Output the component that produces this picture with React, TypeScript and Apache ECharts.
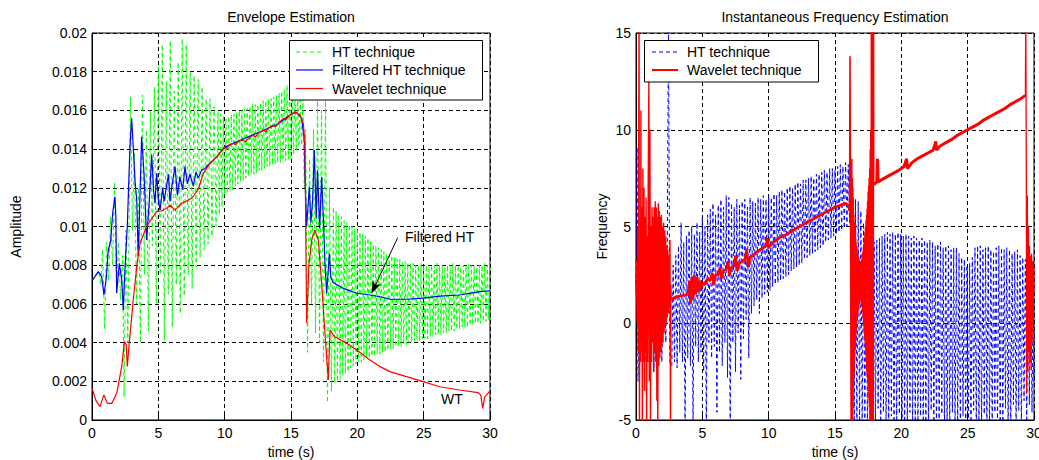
import React, { useEffect, useRef } from "react";
import * as echarts from "echarts";

// ---------- Left: Envelope Estimation ----------
const xTicks = [0, 5, 10, 15, 20, 25, 30];

const envHT: [number, number][] = [
  [0.0, 0.0072], [0.25, 0.0075], [0.5, 0.0077], [0.65, 0.007], [0.8, 0.0088], [0.95, 0.0047],
  [1.1, 0.0092], [1.25, 0.0072], [1.4, 0.0105], [1.55, 0.008], [1.7, 0.0123], [1.85, 0.0068],
  [2.0, 0.0092], [2.15, 0.0062], [2.3, 0.0085], [2.42, 0.0012], [2.55, 0.0098], [2.7, 0.004],
  [2.9, 0.0167], [3.05, 0.0098], [3.2, 0.0138], [3.35, 0.006], [3.5, 0.012], [3.65, 0.004],
  [3.8, 0.0168], [3.95, 0.0075], [4.1, 0.015], [4.25, 0.0046], [4.4, 0.016], [4.55, 0.009],
  [4.7, 0.0172], [4.85, 0.006], [5.0, 0.0183], [5.15, 0.0075], [5.3, 0.0194], [5.45, 0.0041],
  [5.6, 0.0175], [5.75, 0.0065], [5.9, 0.0196], [6.05, 0.0048], [6.2, 0.017], [6.35, 0.007],
  [6.5, 0.0185], [6.65, 0.0055], [6.8, 0.0197], [6.95, 0.0064], [7.1, 0.0194], [7.25, 0.0075],
  [7.4, 0.018], [7.55, 0.0068], [7.7, 0.0178], [7.85, 0.0079], [8.0, 0.0176], [8.15, 0.0084],
  [8.3, 0.0172], [8.45, 0.0088], [8.6, 0.0166], [8.75, 0.0091], [8.9, 0.0166], [9.05, 0.0095],
  [9.2, 0.0162], [9.35, 0.01],
  [9.5, 0.016], [9.6, 0.0106], [9.7, 0.0158], [9.8, 0.011], [9.9, 0.0157], [10.0, 0.0116],
  [10.1, 0.0156], [10.2, 0.0117], [10.3, 0.0157], [10.4, 0.0118], [10.5, 0.0158], [10.6, 0.0119],
  [10.7, 0.0158], [10.8, 0.0121], [10.9, 0.0159], [11.0, 0.0122], [11.1, 0.016], [11.2, 0.0123],
  [11.3, 0.016], [11.4, 0.0124], [11.5, 0.0161], [11.6, 0.0125], [11.7, 0.0161], [11.8, 0.0126],
  [11.9, 0.0162], [12.0, 0.0127], [12.1, 0.0163], [12.2, 0.0127], [12.3, 0.0163], [12.4, 0.0128],
  [12.5, 0.0163], [12.6, 0.0129], [12.7, 0.0164], [12.8, 0.0129], [12.9, 0.0165], [13.0, 0.013],
  [13.1, 0.0165], [13.2, 0.0131], [13.3, 0.0166], [13.4, 0.0131], [13.5, 0.0166], [13.6, 0.0132],
  [13.7, 0.0167], [13.8, 0.0132], [13.9, 0.0168], [14.0, 0.0133], [14.1, 0.0169], [14.2, 0.0133],
  [14.3, 0.017], [14.4, 0.0134], [14.5, 0.0171], [14.6, 0.0134], [14.7, 0.0173], [14.8, 0.0135],
  [14.9, 0.0174], [15.0, 0.0135], [15.1, 0.0172], [15.2, 0.0137], [15.3, 0.017], [15.4, 0.0139],
  [15.5, 0.0169], [15.6, 0.0141], [15.7, 0.0167], [15.8, 0.0142], [15.9, 0.0166], [16.0, 0.012],
  [16.1, 0.015], [16.25, 0.0035], [16.4, 0.0135], [16.55, 0.006], [16.7, 0.015], [16.85, 0.0045],
  [17.0, 0.0165], [17.15, 0.004], [17.3, 0.016], [17.45, 0.003], [17.6, 0.0165], [17.75, 0.0009],
  [17.9, 0.012], [18.05, 0.0015],
  [18.2, 0.011], [18.3, 0.0019], [18.4, 0.0108], [18.5, 0.002], [18.6, 0.0106], [18.7, 0.0021],
  [18.8, 0.0105], [18.9, 0.0023], [19.0, 0.0103], [19.1, 0.0024], [19.2, 0.0102], [19.3, 0.0025],
  [19.4, 0.0101], [19.5, 0.0027], [19.6, 0.01], [19.7, 0.0028], [19.8, 0.0099], [19.9, 0.0029],
  [20.0, 0.0098], [20.1, 0.003], [20.2, 0.0097], [20.3, 0.003], [20.4, 0.0096], [20.5, 0.0031],
  [20.6, 0.0095], [20.7, 0.0032], [20.8, 0.0094], [20.9, 0.0032], [21.0, 0.0092], [21.1, 0.0033],
  [21.2, 0.0091], [21.3, 0.0033], [21.4, 0.009], [21.5, 0.0034], [21.6, 0.0089], [21.7, 0.0034],
  [21.8, 0.0088], [21.9, 0.0035], [22.0, 0.0087], [22.1, 0.0035], [22.2, 0.0086], [22.3, 0.0036],
  [22.4, 0.0085], [22.5, 0.0037], [22.6, 0.0085], [22.7, 0.0037], [22.8, 0.0084], [22.9, 0.0038],
  [23.0, 0.0083], [23.1, 0.0038], [23.2, 0.0083], [23.3, 0.0038], [23.4, 0.0082], [23.5, 0.0039],
  [23.6, 0.0082], [23.7, 0.0039], [23.8, 0.0081], [23.9, 0.004], [24.0, 0.0081], [24.1, 0.004],
  [24.2, 0.0081], [24.3, 0.0041], [24.4, 0.008], [24.5, 0.0041], [24.6, 0.008], [24.7, 0.0041],
  [24.8, 0.0081], [24.9, 0.0042], [25.0, 0.008], [25.1, 0.0042], [25.2, 0.008], [25.3, 0.0042],
  [25.4, 0.0079], [25.5, 0.0043], [25.6, 0.008], [25.7, 0.0043], [25.8, 0.008], [25.9, 0.0044],
  [26.0, 0.0081], [26.1, 0.0044], [26.2, 0.008], [26.3, 0.0044], [26.4, 0.008], [26.5, 0.0045],
  [26.6, 0.0079], [26.7, 0.0045], [26.8, 0.008], [26.9, 0.0046], [27.0, 0.008], [27.1, 0.0046],
  [27.2, 0.0081], [27.3, 0.0046], [27.4, 0.008], [27.5, 0.0047], [27.6, 0.008], [27.7, 0.0047],
  [27.8, 0.0079], [27.9, 0.0048], [28.0, 0.008], [28.1, 0.0048], [28.2, 0.008], [28.3, 0.0048],
  [28.4, 0.0081], [28.5, 0.0049], [28.6, 0.008], [28.7, 0.0049], [28.8, 0.008], [28.9, 0.005],
  [29.0, 0.0079], [29.1, 0.005], [29.2, 0.008], [29.3, 0.005], [29.4, 0.008], [29.5, 0.0051],
  [29.6, 0.0081], [29.7, 0.0051], [29.8, 0.008], [29.9, 0.0052], [30.0, 0.008],
];

const envFiltered: [number, number][] = [
  [0.0, 0.0072], [0.05, 0.00724], [0.48, 0.00767], [0.73, 0.0074], [0.9, 0.00646], [1.06, 0.00724],
  [1.23, 0.0088], [1.4, 0.0092], [1.56, 0.0107], [1.73, 0.01154], [1.8, 0.0105], [1.86, 0.00655],
  [2.06, 0.0081], [2.24, 0.00724], [2.36, 0.00568], [2.49, 0.0079], [2.66, 0.01], [2.86, 0.01412],
  [2.99, 0.01559], [3.11, 0.0141], [3.24, 0.0124], [3.37, 0.01137], [3.49, 0.0085], [3.74, 0.01464],
  [3.92, 0.01275], [4.12, 0.0093], [4.32, 0.01137], [4.5, 0.0137], [4.64, 0.0119], [4.75, 0.0112],
  [4.87, 0.01275], [5.0, 0.0114], [5.13, 0.01085], [5.33, 0.012], [5.43, 0.0113], [5.58, 0.01189],
  [5.76, 0.0127], [5.88, 0.0113], [6.05, 0.0122], [6.26, 0.0131], [6.44, 0.0116], [6.63, 0.01257],
  [6.83, 0.0119], [7.01, 0.0131], [7.19, 0.0122], [7.38, 0.0127], [7.64, 0.0121], [7.84, 0.01283],
  [8.0, 0.0125], [8.25, 0.0129], [8.52, 0.013], [8.77, 0.0132], [9.0, 0.01335], [9.4, 0.0136],
  [10.0, 0.0141], [11.0, 0.0144], [12.0, 0.0147], [13.0, 0.015], [14.0, 0.0153], [15.0, 0.0158],
  [15.4, 0.0159], [15.8, 0.0156], [16.0, 0.0145], [16.05, 0.0126], [16.18, 0.01], [16.38, 0.01206],
  [16.5, 0.0102], [16.63, 0.01137], [16.76, 0.01395], [16.9, 0.0104], [17.0, 0.0129], [17.16, 0.0099],
  [17.31, 0.01257], [17.44, 0.0104], [17.56, 0.0081], [17.69, 0.00655], [17.89, 0.0086], [18.0, 0.0074],
  [18.17, 0.0071], [18.44, 0.007], [18.94, 0.0068], [19.95, 0.00655], [20.95, 0.00646], [21.7, 0.00637],
  [22.46, 0.00624], [23.7, 0.00624], [24.97, 0.0063], [26.2, 0.0064], [27.7, 0.00646], [29.25, 0.00663],
  [30.0, 0.00668],
];

const envWavelet: [number, number][] = [
  [0.0, 0.00164], [0.3, 0.001], [0.6, 0.00069], [0.9, 0.0013], [1.15, 0.00086], [1.5, 0.00086],
  [1.86, 0.00138], [2.24, 0.00276], [2.44, 0.00405], [2.58, 0.0039], [2.66, 0.00276], [2.81, 0.004],
  [3.11, 0.0062], [3.37, 0.0079], [3.62, 0.00913], [4.12, 0.01], [4.5, 0.0104], [4.87, 0.01077],
  [5.2, 0.0108], [5.63, 0.01094], [5.9, 0.0111], [6.26, 0.01085], [6.76, 0.0112], [7.1, 0.0113],
  [7.51, 0.01146], [8.0, 0.0119], [8.39, 0.01275], [8.9, 0.01326], [9.4, 0.0136], [10.0, 0.01412],
  [10.15, 0.01402], [10.3, 0.0142], [10.65, 0.0143], [10.8, 0.01422], [11.0, 0.0144], [11.4, 0.01447],
  [11.55, 0.01438], [11.7, 0.0145], [12.16, 0.01473], [12.3, 0.01462], [12.5, 0.0148], [12.91, 0.01499],
  [13.1, 0.0149], [13.3, 0.0151], [13.67, 0.01525], [13.8, 0.01515], [14.0, 0.0153], [14.42, 0.01559],
  [14.6, 0.0155], [14.92, 0.01576], [15.3, 0.01593], [15.68, 0.01576], [15.93, 0.01533], [16.05, 0.0143],
  [16.18, 0.005], [16.35, 0.008], [16.56, 0.0093], [16.8, 0.00982], [17.06, 0.0093], [17.31, 0.00706],
  [17.56, 0.00448], [17.81, 0.00207], [17.94, 0.00465], [18.3, 0.0043], [19.2, 0.00396], [19.95, 0.00362],
  [20.95, 0.0031], [21.7, 0.00276], [22.46, 0.0025], [23.7, 0.00224], [24.97, 0.00198], [26.2, 0.00172],
  [27.7, 0.00155], [29.1, 0.00141], [29.3, 0.0013], [29.45, 0.0006], [29.6, 0.0012], [30.0, 0.0015],
];

// ---------- Right: Instantaneous Frequency Estimation ----------
const freqHT: [number, number][] = [
  [0.0, 2.0], [0.08, 9.1], [0.15, -3.0], [0.3, 3.0], [0.45, -1.5], [0.6, 4.0], [0.75, -2.0],
  [0.9, 3.5], [1.05, -1.0], [1.2, 4.2], [1.35, -2.5], [1.5, 3.8], [1.65, -1.8], [1.8, 4.0],
  [1.95, -2.0], [2.1, 3.5], [2.25, -1.0], [2.35, 3.0], [2.45, 16.0], [2.55, -2.0],
  [2.7, -2.2], [2.8, 3.0], [2.9, -2.0], [3.0, 3.5], [3.1, -2.3], [3.2, 4.0], [3.3, -1.5], [3.4, 5.2],
  [3.5, -2.0], [3.6, 4.2], [3.7, -5.5], [3.8, 4.5], [3.9, -1.8], [4.0, 4.8], [4.1, -2.2], [4.2, 5.0],
  [4.3, -5.5], [4.4, 4.6], [4.5, -1.2], [4.6, 5.2], [4.7, -2.0], [4.8, 4.7], [4.9, -1.5], [5.0, 5.5],
  [5.1, -2.5], [5.2, 5.0], [5.3, -5.5], [5.4, 5.6], [5.5, -1.0], [5.6, 5.9], [5.7, -1.8], [5.8, 6.2],
  [5.9, -1.2], [6.0, 5.6], [6.1, -4.6], [6.2, 6.1], [6.3, -1.5], [6.4, 6.4], [6.5, -2.2], [6.6, 6.0],
  [6.7, -1.0], [6.8, 6.6], [6.9, -2.8], [7.0, 6.5], [7.1, -5.5], [7.2, 6.2], [7.3, -1.0], [7.4, 6.0],
  [7.5, -2.5], [7.6, 6.4], [7.7, -0.5], [7.8, 6.1], [7.9, -2.9], [8.0, 6.3], [8.1, -0.8], [8.2, 6.4],
  [8.3, 0.2], [8.4, 6.0], [8.5, -1.8], [8.6, 6.5], [8.7, 0.5], [8.8, 6.3], [8.9, 0.9], [9.0, 6.2],
  [9.1, 1.2], [9.2, 6.5], [9.3, 0.5], [9.4, 6.4], [9.5, 1.3], [9.6, 6.6], [9.7, 1.5], [9.8, 6.4],
  [9.9, 1.6], [10.0, 6.6], [10.1, 1.7], [10.2, 6.5], [10.3, 1.9], [10.4, 6.7], [10.5, 2.0], [10.6, 6.6],
  [10.7, 2.1], [10.8, 6.8], [10.9, 2.2], [11.0, 6.9], [11.1, 2.3], [11.2, 6.8], [11.3, 2.4], [11.4, 7.0],
  [11.5, 2.5], [11.6, 7.1], [11.7, 2.7], [11.8, 7.0], [11.9, 2.8], [12.0, 7.2], [12.1, 2.9], [12.2, 7.3],
  [12.3, 3.0], [12.4, 7.2], [12.5, 3.1], [12.6, 7.4], [12.7, 3.3], [12.8, 7.4], [12.9, 3.4], [13.0, 7.5],
  [13.1, 3.5], [13.2, 7.6], [13.3, 3.6], [13.4, 7.5], [13.5, 3.7], [13.6, 7.7], [13.7, 3.8], [13.8, 7.7],
  [13.9, 3.9], [14.0, 7.8], [14.1, 4.0], [14.2, 7.9], [14.3, 4.2], [14.4, 7.8], [14.5, 4.3], [14.6, 8.0],
  [14.7, 4.4], [14.8, 8.0], [14.9, 4.5], [15.0, 7.9], [15.1, 4.6], [15.2, 8.1], [15.3, 4.7], [15.4, 8.2],
  [15.5, 4.8], [15.6, 8.1], [15.7, 4.9], [15.8, 8.3], [15.9, 5.0], [16.0, 8.2], [16.1, 5.2], [16.2, 8.0],
  [16.25, -6.0],
  [16.35, 6.5], [16.45, -5.5], [16.55, 6.4], [16.65, -5.5], [16.75, 6.3], [16.85, -5.5], [16.95, 5.8],
  [17.05, -5.5], [17.15, 5.2], [17.25, -5.5], [17.35, 4.6], [17.45, -5.5], [17.55, 3.5], [17.65, -5.5],
  [17.75, 4.0], [17.85, -5.5], [17.95, 4.2], [18.05, -5.5], [18.15, 4.3], [18.25, -4.4], [18.35, 4.4],
  [18.45, -5.5], [18.55, 4.5], [18.65, -4.6], [18.75, 4.6], [18.85, -5.5], [18.95, 4.7], [19.05, -5.5],
  [19.15, 4.6], [19.25, -4.8], [19.35, 4.7], [19.45, -5.5], [19.55, 4.6], [19.65, -5.5], [19.75, 4.7],
  [19.85, -4.7], [19.95, 4.6], [20.05, -5.5], [20.15, 4.5], [20.25, -5.5], [20.35, 4.6], [20.45, -5.5],
  [20.55, 4.5], [20.65, -4.6], [20.75, 4.4], [20.85, -5.5], [20.95, 4.5], [21.05, -5.5], [21.15, 4.4],
  [21.25, -5.5], [21.35, 4.3], [21.45, -4.8], [21.55, 4.4], [21.65, -5.5], [21.75, 4.3], [21.85, -5.5],
  [21.95, 4.2], [22.05, -5.5], [22.15, 4.3], [22.25, -4.5], [22.35, 4.2], [22.45, -5.5], [22.55, 4.0],
  [22.65, -5.5], [22.75, 4.1], [22.85, -5.5], [22.95, 4.2], [23.05, -4.7], [23.15, 3.9], [23.25, -5.5],
  [23.35, 4.0], [23.45, -5.5], [23.55, 4.0], [23.65, -5.5], [23.75, 3.8], [23.85, -4.6], [23.95, 3.9],
  [24.05, -5.5], [24.15, 3.9], [24.25, -5.5], [24.35, 3.6], [24.45, -5.5], [24.55, 3.4], [24.65, -4.8],
  [24.75, 3.3], [24.85, -5.5], [24.95, 3.0], [25.05, -5.5], [25.15, 3.1], [25.25, -5.5], [25.35, 3.4],
  [25.45, -4.5], [25.55, 3.9], [25.65, -5.5], [25.75, 4.0], [25.85, -5.5], [25.95, 4.0], [26.05, -5.5],
  [26.15, 3.8], [26.25, -4.7], [26.35, 3.9], [26.45, -5.5], [26.55, 4.0], [26.65, -5.5], [26.75, 3.8],
  [26.85, -5.5], [26.95, 3.7], [27.05, -4.6], [27.15, 3.9], [27.25, -5.5], [27.35, 4.0], [27.45, -5.5],
  [27.55, 3.9], [27.65, -5.5], [27.75, 3.8], [27.85, -4.4], [27.95, 3.9], [28.05, -5.5], [28.15, 3.8],
  [28.25, -5.5], [28.35, 3.6], [28.45, -4.2], [28.55, 3.7], [28.65, -5.5], [28.75, 3.8], [28.85, -4.5],
  [28.95, 3.5], [29.05, -5.5], [29.15, 3.4], [29.25, -4.0], [29.35, 3.3], [29.45, -5.5], [29.55, 3.0],
  [29.65, -4.2], [29.75, 3.1], [29.85, -4.6], [29.95, 3.2], [30.0, -3.0],
];

const freqWaveletStart: [number, number][] = [
  [0.0, 1.5], [0.04, 3.2], [0.08, 0.0], [0.12, 5.0], [0.16, -1.5], [0.2, 9.0], [0.23, 16.0],
  [0.26, -6.0], [0.3, 4.0], [0.34, -2.0], [0.37, 11.0], [0.4, -1.0], [0.44, 6.0], [0.48, -6.0],
  [0.52, 8.0], [0.56, -2.0], [0.6, 7.0], [0.64, -3.5], [0.68, 5.5], [0.72, -1.5], [0.76, 6.5],
  [0.8, -6.0], [0.84, 4.5], [0.88, -2.0], [0.92, 7.0], [0.97, 12.5], [1.0, -3.0], [1.05, 10.0],
  [1.09, -6.0], [1.13, 5.0], [1.17, -2.0], [1.21, 6.0], [1.25, -1.0], [1.29, 5.5], [1.33, -2.5],
  [1.37, 6.0], [1.41, -1.5], [1.45, 6.3], [1.49, -2.0], [1.53, 6.0], [1.57, -4.0], [1.61, 5.5],
  [1.64, -6.0], [1.68, 6.2], [1.72, -2.2], [1.76, 5.8], [1.8, -1.8], [1.84, 5.5], [1.88, -1.5],
  [1.92, 5.6], [1.96, -1.2], [2.0, 5.0], [2.04, -1.0], [2.08, 5.2], [2.12, -0.5], [2.16, 4.8],
  [2.2, -0.2], [2.24, 4.5], [2.28, 0.0], [2.32, 4.0], [2.36, 0.3], [2.4, 3.8], [2.44, 0.5],
  [2.48, 3.5], [2.52, 0.8], [2.56, 4.3], [2.6, -6.0], [2.63, 2.0], [2.66, 1.2],
];

const freqWaveletRise: [number, number][] = [
  [2.66, 1.2], [2.8, 1.3], [3.2, 1.4], [3.6, 1.45], [3.9, 1.5], [4.05, 2.2], [4.1, 1.0], [4.2, 2.4],
  [4.3, 1.2], [4.4, 2.5], [4.5, 1.5], [4.6, 2.4], [4.7, 1.6], [4.8, 2.2], [4.9, 1.8], [5.0, 2.1],
  [5.2, 2.0], [5.4, 2.3], [5.6, 2.2], [5.75, 2.6], [5.85, 2.0], [6.0, 2.5], [6.2, 2.5], [6.35, 2.9],
  [6.45, 2.3], [6.6, 2.7], [6.8, 2.8], [6.95, 3.2], [7.05, 2.5], [7.2, 2.9], [7.4, 3.0], [7.5, 3.5],
  [7.6, 2.7], [7.8, 3.1], [8.0, 3.2], [8.2, 3.3], [8.35, 3.8], [8.45, 2.9], [8.6, 3.4], [8.8, 3.5],
  [9.0, 3.6], [9.2, 3.75], [9.4, 3.8], [9.6, 3.9], [9.8, 4.0], [9.9, 4.4], [10.0, 3.9], [10.3, 4.15],
  [10.6, 4.3], [11.0, 4.5], [11.4, 4.6], [11.8, 4.8], [12.2, 4.95], [12.6, 5.1], [13.0, 5.25],
  [13.4, 5.4], [13.8, 5.55], [14.2, 5.7], [14.6, 5.85], [15.0, 6.0], [15.4, 6.1], [15.8, 6.2],
  [16.0, 6.1], [16.1, 5.8],
];

const freqWaveletJump: [number, number][] = [
  [16.1, 5.8], [16.13, 13.8], [16.18, 3.0], [16.22, -6.0],
  [16.26, 8.5], [16.28, -6.0], [16.3, 7.5], [16.32, -5.0], [16.34, 7.0], [16.36, -4.4], [16.38, 6.4],
  [16.4, -3.0], [16.42, 5.6], [16.44, -2.6], [16.46, 5.2], [16.48, -1.9], [16.5, 4.8], [16.52, -1.4],
  [16.54, 4.5], [16.56, -0.9], [16.58, 4.2], [16.6, -0.3], [16.62, 4.0], [16.64, 0.0], [16.66, 3.8],
  [16.68, 0.2], [16.7, 3.6], [16.72, 0.5], [16.74, 3.5], [16.76, 0.7], [16.78, 3.4], [16.8, 0.9],
  [16.82, 3.3], [16.84, 1.0], [16.86, 3.2], [16.88, 1.2], [16.9, 3.1], [16.92, 1.3], [16.94, 3.1],
  [16.96, 1.2], [16.98, 3.2], [17.0, 1.0], [17.02, 3.3], [17.04, 0.9], [17.06, 3.5], [17.08, 0.6],
  [17.1, 3.7], [17.12, 0.3], [17.14, 3.9], [17.16, 0.0], [17.18, 4.1], [17.2, -0.4], [17.22, 4.4],
  [17.24, -0.8], [17.26, 4.7], [17.28, -1.1], [17.3, 5.0], [17.32, -1.6], [17.34, 5.3], [17.36, -2.0],
  [17.38, 5.6], [17.4, -2.5], [17.42, 5.9], [17.44, -2.8], [17.46, 6.3], [17.48, -3.1], [17.5, 6.8],
  [17.52, -3.5], [17.54, 7.1], [17.56, -3.9], [17.58, 7.5], [17.6, -4.3], [17.62, 8.0], [17.64, -5.0],
  [17.66, 9.0], [17.68, -6.0], [17.7, 10.0], [17.72, -6.0], [17.74, 16.0], [17.76, -6.0], [17.78, 16.0],
  [17.8, -6.0], [17.82, 16.0], [17.84, -6.0], [17.86, 16.0], [17.88, -6.0], [17.9, 16.0], [17.92, 7.2],
];

const freqWaveletRamp: [number, number][] = [
  [17.92, 7.2], [18.0, 7.2], [18.15, 7.3], [18.2, 8.5], [18.25, 7.3], [18.6, 7.45], [19.0, 7.6],
  [19.4, 7.75], [19.8, 7.9], [20.2, 8.1], [20.4, 8.5], [20.45, 8.0], [20.8, 8.3], [21.2, 8.5],
  [21.6, 8.65], [22.0, 8.8], [22.4, 8.95], [22.6, 9.4], [22.65, 8.95], [22.9, 9.15], [23.4, 9.35],
  [23.8, 9.5], [24.2, 9.7], [24.6, 9.85], [25.0, 10.0], [25.4, 10.15], [25.8, 10.3], [26.2, 10.5],
  [26.6, 10.65], [27.0, 10.8], [27.4, 10.95], [27.8, 11.1], [28.2, 11.3], [28.6, 11.45], [29.0, 11.6],
  [29.3, 11.75], [29.35, 11.7],
];

const freqWaveletEnd: [number, number][] = [
  [29.35, 11.7], [29.38, 16.0], [29.42, 8.0], [29.45, -3.6], [29.5, 6.6], [29.54, -2.5], [29.58, 5.0],
  [29.62, -1.5], [29.66, 4.0], [29.7, -2.0], [29.74, 3.5], [29.78, -2.4], [29.82, 3.6], [29.86, -1.0],
  [29.9, 3.2], [29.94, 0.0], [29.97, 3.0], [30.0, 1.5],
];

const FONT = '"Liberation Sans", Arial, sans-serif';
const GREEN = "#00ff00";
const BLUE = "#0000ff";
const RED = "#ff0000";
const DASH = [4, 3];

function xAxisCfg(gridIndex: number) {
  return {
    type: "value" as const,
    gridIndex,
    min: 0,
    max: 30,
    interval: 5,
    name: "time (s)",
    nameLocation: "middle" as const,
    nameGap: 24,
    nameTextStyle: { color: "#000", fontSize: 14, fontFamily: FONT },
    axisLine: { show: true, onZero: false, lineStyle: { color: "#000", width: 1 } },
    axisTick: { show: true, inside: true, length: 5, lineStyle: { color: "#000" } },
    axisLabel: {
      color: "#000", fontSize: 14, fontFamily: FONT, margin: 6,
      formatter: (v: number) => (xTicks.includes(v) ? String(v) : ""),
    },
    splitLine: { show: true, lineStyle: { color: "#000", type: DASH, width: 1 } },
  };
}

function yAxisCfg(gridIndex: number, min: number, max: number, interval: number, name: string, nameGap: number) {
  return {
    type: "value" as const,
    gridIndex, min, max, interval, name,
    nameLocation: "middle" as const,
    nameGap,
    nameTextStyle: { color: "#000", fontSize: 14, fontFamily: FONT },
    axisLine: { show: true, onZero: false, lineStyle: { color: "#000", width: 1 } },
    axisTick: { show: true, inside: true, length: 5, lineStyle: { color: "#000" } },
    axisLabel: { color: "#000", fontSize: 14, fontFamily: FONT, margin: 5 },
    splitLine: { show: true, lineStyle: { color: "#000", type: DASH, width: 1 } },
  };
}

function lineSeries(name: string, xi: number, data: [number, number][], color: string, width: number, dashed = false, extra: any = {}) {
  return {
    name, type: "line", xAxisIndex: xi, yAxisIndex: xi, data,
    symbol: "none", showSymbol: false, clip: true, silent: true,
    lineStyle: { color, width, type: dashed ? DASH : "solid" },
    ...extra,
  };
}

export default function App() {
  const ref = useRef<HTMLDivElement>(null);
  useEffect(() => {
    if (!ref.current) return;
    const chart = echarts.init(ref.current, undefined, { renderer: "svg" });
    const textStyle = (text: string, align = "left") => ({
      text, fill: "#000", fontSize: 14, fontFamily: FONT, align, verticalAlign: "middle",
    });
    const gridBase = {
      top: 33, width: 398, height: 387, show: true, borderColor: "#000", borderWidth: 1,
      backgroundColor: "transparent", containLabel: false, outerBoundsMode: "none",
    };
    const option: any = {
      animation: false,
      backgroundColor: "#ffffff",
      grid: [
        { ...gridBase, left: 92 },
        { ...gridBase, left: 636 },
      ],
      xAxis: [xAxisCfg(0), xAxisCfg(1)],
      yAxis: [
        yAxisCfg(0, 0, 0.02, 0.002, "Amplitude", 69),
        yAxisCfg(1, -5, 15, 5, "Frequency", 27),
      ],
      series: [
        lineSeries("HT technique", 0, envHT, GREEN, 1, true),
        lineSeries("Filtered HT technique", 0, envFiltered, BLUE, 1.2, false, {
          markLine: {
            silent: true, symbol: ["none", "arrow"], symbolSize: [7, 12], animation: false,
            label: { show: false },
            lineStyle: { color: "#000", width: 1, type: "solid" },
            data: [[{ coord: [23.04, 0.00942] }, { coord: [21.08, 0.00655] }]],
          },
        }),
        lineSeries("Wavelet technique", 0, envWavelet, RED, 1.2),
        lineSeries("HT technique", 1, freqHT, BLUE, 1, true),
        lineSeries("Wavelet technique", 1, freqWaveletStart, RED, 1.4),
        lineSeries("Wavelet technique", 1, freqWaveletRise, RED, 2.6),
        lineSeries("Wavelet technique", 1, freqWaveletJump, RED, 1.6),
        lineSeries("Wavelet technique", 1, freqWaveletRamp, RED, 3),
        lineSeries("Wavelet technique", 1, freqWaveletEnd, RED, 1.3),
      ],
      graphic: [
        { type: "text", x: 291, y: 17, style: textStyle("Envelope Estimation", "center") },
        { type: "text", x: 835, y: 17, style: textStyle("Instantaneous Frequency Estimation", "center") },
        // left legend
        { type: "rect", shape: { x: 289.5, y: 40.5, width: 193, height: 59.5 }, style: { fill: "#fff", stroke: "#000", lineWidth: 1 }, z: 100 },
        { type: "line", shape: { x1: 296, y1: 52, x2: 323, y2: 52 }, style: { stroke: GREEN, lineWidth: 1, lineDash: DASH }, z: 101 },
        { type: "line", shape: { x1: 296, y1: 70, x2: 323, y2: 70 }, style: { stroke: BLUE, lineWidth: 1.2 }, z: 101 },
        { type: "line", shape: { x1: 296, y1: 88.5, x2: 323, y2: 88.5 }, style: { stroke: RED, lineWidth: 1.2 }, z: 101 },
        { type: "text", x: 332, y: 52, style: textStyle("HT technique"), z: 101 },
        { type: "text", x: 332, y: 70, style: textStyle("Filtered HT technique"), z: 101 },
        { type: "text", x: 332, y: 88.5, style: textStyle("Wavelet technique"), z: 101 },
        // right legend
        { type: "rect", shape: { x: 644.5, y: 40.5, width: 174, height: 41.5 }, style: { fill: "#fff", stroke: "#000", lineWidth: 1 }, z: 100 },
        { type: "line", shape: { x1: 652, y1: 52, x2: 678, y2: 52 }, style: { stroke: BLUE, lineWidth: 1, lineDash: DASH }, z: 101 },
        { type: "line", shape: { x1: 652, y1: 70, x2: 678, y2: 70 }, style: { stroke: RED, lineWidth: 2 }, z: 101 },
        { type: "text", x: 687, y: 52, style: textStyle("HT technique"), z: 101 },
        { type: "text", x: 687, y: 70, style: textStyle("Wavelet technique"), z: 101 },
        // annotations
        { type: "text", x: 405, y: 237, style: textStyle("Filtered HT"), z: 101 },
        { type: "text", x: 441, y: 399, style: textStyle("WT"), z: 101 },
      ],
    };
    chart.setOption(option);
    return () => chart.dispose();
  }, []);
  return (
    <div
      ref={ref}
      style={{ position: "fixed", left: 0, top: 0, width: 1039, height: 460, background: "#fff" }}
    />
  );
}
